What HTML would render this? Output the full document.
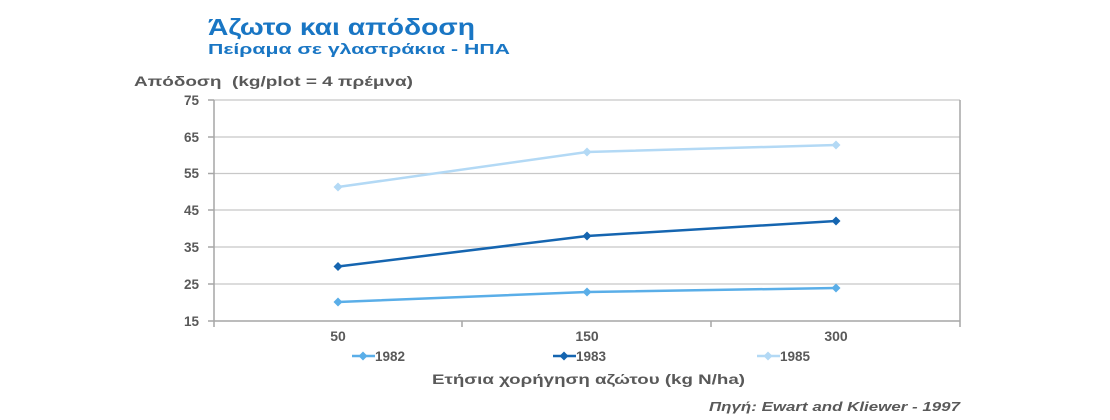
<!DOCTYPE html>
<html><head><meta charset="utf-8"><style>
html,body{margin:0;padding:0;background:#fff;}
svg{display:block;font-family:"Liberation Sans",Arial,sans-serif;}
</style></head><body>
<svg width="1110" height="420" viewBox="0 0 1110 420" xmlns="http://www.w3.org/2000/svg">
<text x="208" y="35" font-size="23" font-weight="bold" fill="#1976c4" textLength="267" lengthAdjust="spacingAndGlyphs">Άζωτο και απόδοση</text>
<text x="208" y="54" font-size="15" font-weight="bold" fill="#1976c4" textLength="302" lengthAdjust="spacingAndGlyphs">Πείραμα σε γλαστράκια - ΗΠΑ</text>
<text x="134" y="86" font-size="13.5" font-weight="bold" fill="#595959" textLength="279" lengthAdjust="spacingAndGlyphs" xml:space="preserve">Απόδοση  (kg/plot = 4 πρέμνα)</text>
<g stroke="#c8c8c8" stroke-width="1.3">
<line x1="214" y1="100" x2="960" y2="100"/>
<line x1="214" y1="137" x2="960" y2="137"/>
<line x1="214" y1="173.5" x2="960" y2="173.5"/>
<line x1="214" y1="210" x2="960" y2="210"/>
<line x1="214" y1="247" x2="960" y2="247"/>
<line x1="214" y1="284" x2="960" y2="284"/>
</g>
<g stroke="#a6a6a6" stroke-width="1.5">
<line x1="214" y1="100" x2="214" y2="321"/>
<line x1="960" y1="100" x2="960" y2="321"/>
<line x1="208" y1="321" x2="960" y2="321"/>
<line x1="208" y1="100" x2="214" y2="100"/><line x1="208" y1="137" x2="214" y2="137"/>
<line x1="208" y1="173.5" x2="214" y2="173.5"/><line x1="208" y1="210" x2="214" y2="210"/>
<line x1="208" y1="247" x2="214" y2="247"/><line x1="208" y1="284" x2="214" y2="284"/>
<line x1="214" y1="321" x2="214" y2="327"/><line x1="462" y1="321" x2="462" y2="327"/>
<line x1="711" y1="321" x2="711" y2="327"/><line x1="960" y1="321" x2="960" y2="327"/>
</g>
<g font-size="13.5" font-weight="bold" fill="#595959" text-anchor="end">
<text x="199" y="105">75</text><text x="199" y="142">65</text><text x="199" y="178">55</text>
<text x="199" y="215">45</text><text x="199" y="252">35</text><text x="199" y="289">25</text><text x="199" y="326">15</text>
</g>
<g font-size="14" font-weight="bold" fill="#595959" text-anchor="middle">
<text x="338" y="341">50</text><text x="587" y="341">150</text><text x="836" y="341">300</text>
</g>
<defs><path id="d" d="M0,-4.5 L4.5,0 L0,4.5 L-4.5,0Z"/></defs>
<g fill="none" stroke-width="2.5">
<polyline points="338,302 587,292 836,288" stroke="#5aaee8"/>
<polyline points="338,266.5 587,236 836,221" stroke="#1565b0"/>
<polyline points="338,187 587,152 836,145" stroke="#b3d9f5"/>
</g>
<g fill="#5aaee8"><use href="#d" x="338" y="302"/><use href="#d" x="587" y="292"/><use href="#d" x="836" y="288"/></g>
<g fill="#1565b0"><use href="#d" x="338" y="266.5"/><use href="#d" x="587" y="236"/><use href="#d" x="836" y="221"/></g>
<g fill="#b3d9f5"><use href="#d" x="338" y="187"/><use href="#d" x="587" y="152"/><use href="#d" x="836" y="145"/></g>
<g stroke-width="2.5">
<line x1="352" y1="356" x2="375" y2="356" stroke="#5aaee8"/>
<line x1="553" y1="356" x2="576" y2="356" stroke="#1565b0"/>
<line x1="757" y1="356" x2="780" y2="356" stroke="#b3d9f5"/>
</g>
<use href="#d" x="363" y="356" fill="#5aaee8"/>
<use href="#d" x="564" y="356" fill="#1565b0"/>
<use href="#d" x="768" y="356" fill="#b3d9f5"/>
<g font-size="13.5" font-weight="bold" fill="#595959">
<text x="375" y="361">1982</text><text x="576" y="361">1983</text><text x="780" y="361">1985</text>
</g>
<text x="432" y="384" font-size="14" font-weight="bold" fill="#595959" textLength="313" lengthAdjust="spacingAndGlyphs">Ετήσια χορήγηση αζώτου (kg N/ha)</text>
<text x="709" y="411" font-size="12.5" font-weight="bold" font-style="italic" fill="#595959" textLength="251" lengthAdjust="spacingAndGlyphs">Πηγή: Ewart and Kliewer - 1997</text>
</svg>
</body></html>
